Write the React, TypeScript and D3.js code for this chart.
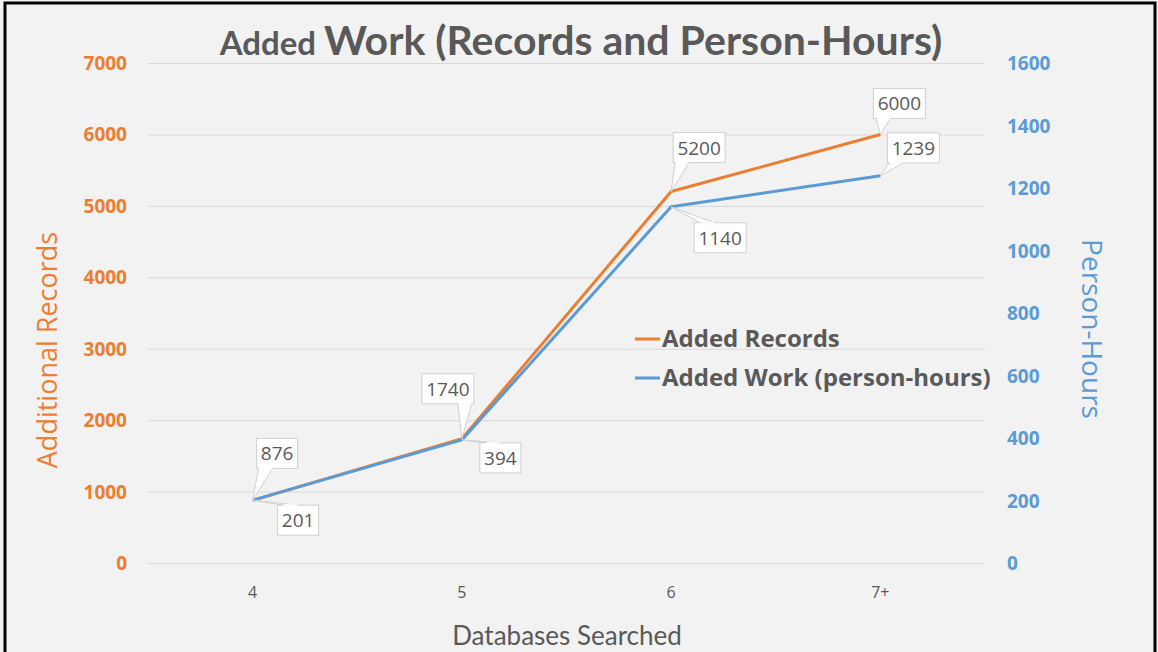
import React, { useEffect, useRef } from 'react';
import * as d3 from 'd3';

const categories = ['4', '5', '6', '7+'];
const addedRecords = [876, 1740, 5200, 6000];
const personHours = [201, 394, 1140, 1239];
const leftTicks = [0, 1000, 2000, 3000, 4000, 5000, 6000, 7000];
const rightTicks = [0, 200, 400, 600, 800, 1000, 1200, 1400, 1600];
const seriesNames = ['Added Records', 'Added Work (person-hours)'];

const ORANGE = '#ED7D31';
const BLUE = '#5B9BD5';
const GRAY = '#595959';
const W = 1158;
const H = 652;

// label box offsets relative to each point (box left, box top)
const recordLabelOffsets = [[4, -62], [-40, -65], [2, -59], [-7, -46]];
const hourLabelOffsets = [[25, 5], [18, 3], [23, 16], [7, -43]];

const App = () => {
    const ref = useRef<SVGSVGElement>(null);

    useEffect(() => {
        document.body.style.margin = '0';
        const svg = d3.select(ref.current);
        svg.selectAll('*').remove();

        const left = 148, right = 985, top = 63, bottom = 563;

        const x = d3.scaleBand().domain(categories).range([left, right]);
        const yL = d3.scaleLinear().domain([0, 7000]).range([bottom, top]);
        const yR = d3.scaleLinear().domain([0, 1600]).range([bottom, top]);
        const cx = (c: string) => (x(c) as number) + x.bandwidth() / 2;

        svg.append('rect').attr('width', W).attr('height', H).attr('fill', '#F2F2F2');
        svg.append('rect')
            .attr('x', 5).attr('y', 3).attr('width', 1150).attr('height', 670)
            .attr('fill', 'none').attr('stroke', '#000').attr('stroke-width', 3);

        // gridlines
        svg.append('g')
            .selectAll('line')
            .data(leftTicks)
            .enter()
            .append('line')
            .attr('x1', left).attr('x2', right)
            .attr('y1', d => yL(d) + 0.5).attr('y2', d => yL(d) + 0.5)
            .attr('stroke', '#D9D9D9').attr('stroke-width', 1);

        const tickFont = "'Open Sans', 'Noto Sans', sans-serif";

        // left axis labels
        svg.append('g')
            .selectAll('text')
            .data(leftTicks)
            .enter()
            .append('text')
            .attr('x', 127).attr('y', d => yL(d) + 7)
            .attr('text-anchor', 'end')
            .style('font-family', tickFont).style('font-weight', 700).style('font-size', '19px')
            .attr('fill', ORANGE)
            .text(d => d);

        // right axis labels
        svg.append('g')
            .selectAll('text')
            .data(rightTicks)
            .enter()
            .append('text')
            .attr('x', 1007).attr('y', d => yR(d) + 7)
            .attr('text-anchor', 'start')
            .style('font-family', tickFont).style('font-weight', 700).style('font-size', '19px')
            .attr('fill', BLUE)
            .text(d => d);

        // category labels
        svg.append('g')
            .selectAll('text')
            .data(categories)
            .enter()
            .append('text')
            .attr('x', d => cx(d)).attr('y', 598)
            .attr('text-anchor', 'middle')
            .style('font-family', tickFont).style('font-size', '16px')
            .attr('fill', GRAY)
            .text(d => d);

        // axis titles
        svg.append('text')
            .attr('transform', 'translate(57,350) rotate(-90)')
            .attr('text-anchor', 'middle')
            .style('font-family', tickFont).style('font-size', '27px')
            .attr('fill', ORANGE)
            .text('Additional Records');
        svg.append('text')
            .attr('transform', 'translate(1082,329) rotate(90)')
            .attr('text-anchor', 'middle')
            .style('font-family', tickFont).style('font-size', '28px')
            .attr('fill', BLUE)
            .text('Person-Hours');
        svg.append('text')
            .attr('x', 567).attr('y', 645)
            .attr('text-anchor', 'middle')
            .style('font-family', "Lato, sans-serif").style('font-size', '26px')
            .attr('fill', GRAY)
            .text('Databases Searched');

        // title
        const title = svg.append('text')
            .attr('x', 581).attr('y', 55)
            .attr('text-anchor', 'middle')
            .style('font-family', "Lato, sans-serif").style('font-weight', 700)
            .attr('fill', GRAY);
        title.append('tspan').style('font-size', '33px').text('Added ');
        title.append('tspan').style('font-size', '41px').text('Work (Records and Person-Hours)');

        // lines
        const lineL = d3.line<number>().x((d, i) => cx(categories[i])).y(d => yL(d));
        const lineR = d3.line<number>().x((d, i) => cx(categories[i])).y(d => yR(d));
        svg.append('path').attr('d', lineL(addedRecords) as string)
            .attr('fill', 'none').attr('stroke', ORANGE).attr('stroke-width', 3)
            .attr('stroke-linejoin', 'round');
        svg.append('path').attr('d', lineR(personHours) as string)
            .attr('fill', 'none').attr('stroke', BLUE).attr('stroke-width', 3)
            .attr('stroke-linejoin', 'round');

        // data label callouts
        const drawLabel = (px: number, py: number, off: number[], txt: string) => {
            const bw = txt.length * 11 + 8, bh = 30;
            const bx = px + off[0], by = py + off[1];
            const g = svg.append('g');
            // pointer: attach to nearest box edge
            let a1: number[], a2: number[];
            if (by + bh < py) {
                const ax = Math.max(bx + 6, Math.min(bx + bw - 6, px));
                a1 = [ax - 4, by + bh]; a2 = [ax + 10, by + bh];
                if (ax + 10 > bx + bw) { a1 = [ax - 10, by + bh]; a2 = [ax + 4, by + bh]; }
            } else {
                const ax = Math.max(bx + 6, Math.min(bx + bw - 6, px));
                a1 = [ax, by]; a2 = [ax + 14, by];
            }
            g.append('path')
                .attr('d', `M${a1[0]},${a1[1]}L${px},${py}L${a2[0]},${a2[1]}`)
                .attr('fill', '#fff').attr('stroke', '#D0D0D0').attr('stroke-width', 1);
            g.append('rect')
                .attr('x', bx).attr('y', by).attr('width', bw).attr('height', bh)
                .attr('fill', '#fff').attr('stroke', '#D0D0D0').attr('stroke-width', 1);
            g.append('path')
                .attr('d', `M${a1[0] + 0.5},${a1[1]}L${a2[0] - 0.5},${a2[1]}`)
                .attr('stroke', '#fff').attr('stroke-width', 2);
            g.append('text')
                .attr('x', bx + bw / 2).attr('y', by + 22)
                .attr('text-anchor', 'middle')
                .style('font-family', tickFont).style('font-size', '19px')
                .attr('fill', GRAY)
                .text(txt);
        };
        addedRecords.forEach((v, i) => drawLabel(cx(categories[i]), yL(v), recordLabelOffsets[i], String(v)));
        personHours.forEach((v, i) => drawLabel(cx(categories[i]), yR(v), hourLabelOffsets[i], String(v)));

        // legend
        const legend = svg.append('g');
        [ORANGE, BLUE].forEach((c, i) => {
            const ly = 339 + i * 39;
            legend.append('line')
                .attr('x1', 635).attr('x2', 660).attr('y1', ly).attr('y2', ly)
                .attr('stroke', c).attr('stroke-width', 3);
            legend.append('text')
                .attr('x', 662).attr('y', ly + 8)
                .style('font-family', tickFont).style('font-weight', 700).style('font-size', '24px')
                .attr('fill', GRAY)
                .text(seriesNames[i]);
        });
    }, []);

    return <svg ref={ref} width={W} height={H} style={{ display: 'block' }} />;
};

export default App;
